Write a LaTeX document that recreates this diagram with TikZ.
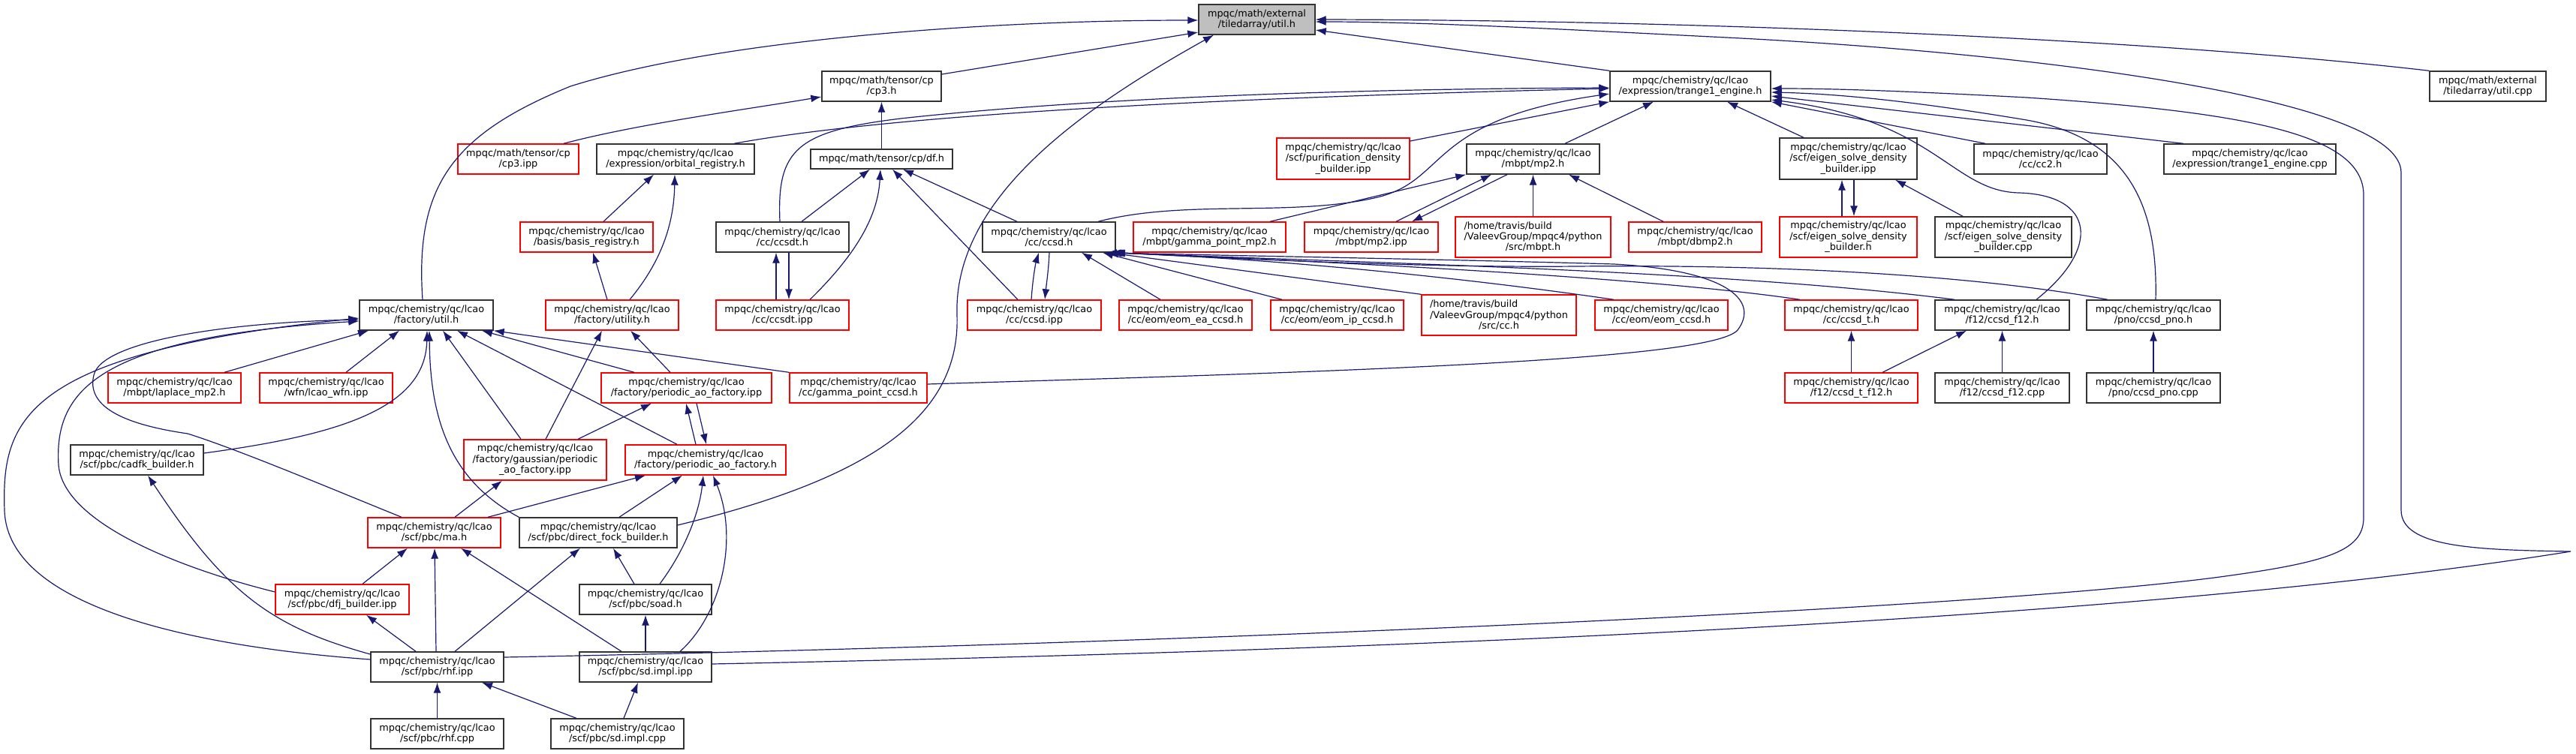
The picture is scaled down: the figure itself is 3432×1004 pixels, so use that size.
\documentclass[tikz,border=0pt]{standalone}
\usepackage{fontspec}
\usetikzlibrary{arrows.meta}
\newfontfamily\nfam{DejaVu Sans}
\newcommand\nf{\nfam\fontsize{12.85pt}{14.4pt}\selectfont}
\newcommand\lcaop{mpqc/chemistry/qc/lcao}
\newlength\lwA
\definecolor{mblue}{RGB}{25,25,112}
\tikzset{
  nb/.style={draw=black!80, line width=1.4pt, fill=white, inner sep=0pt, align=center, font=\nf},
  nr/.style={nb, draw=red},
  nroot/.style={nb, fill=black!25},
  sz/.style 2 args={minimum width=#1, minimum height=#2},
  ed/.style={draw=mblue, line width=1.2pt, -{Latex[length=14pt,width=10pt]}},
}
\begin{document}
\begin{tikzpicture}[x=1pt,y=-1pt]
\fill[white] (0,0) rectangle (3432,1004);
\useasboundingbox (0,0) rectangle (3432,1004);
% row 0
\node[nroot,sz={155}{40}] (utilh) at (1674.5,26) {mpqc/math/external\\/tiledarray/util.h};
% row 1
\node[nb,sz={159}{40}] (cpth) at (1174.5,115) {mpqc/math/tensor/cp\\/cp3.h};
\node[nb,sz={214}{40}] (trh) at (2252,115) {\lcaop\\/expression/trange1\_engine.h};
\node[nb,sz={155}{40}] (utilcpp) at (3314.5,115) {mpqc/math/external\\/tiledarray/util.cpp};
% row 2
\node[nr,sz={161}{40}] (cpipp) at (690.5,212) {mpqc/math/tensor/cp\\/cp3.ipp};
\node[nb,sz={210}{40}] (orbreg) at (900,212) {\lcaop\\/expression/orbital\_registry.h};
\node[nb,sz={189}{26}] (dfh) at (1174.5,212) {mpqc/math/tensor/cp/df.h};
\node[nr,sz={177}{55}] (purif) at (1789.5,211.5) {\lcaop\\/scf/purification\_density\\\_builder.ipp};
\node[nb,sz={177}{40}] (mp2h) at (2042.5,212) {\lcaop\\/mbpt/mp2.h};
\node[nb,sz={183}{55}] (esdbipp) at (2462.5,211.5) {\lcaop\\/scf/eigen\_solve\_density\\\_builder.ipp};
\node[nb,sz={177}{40}] (cc2h) at (2718.5,212) {\lcaop\\/cc/cc2.h};
\node[nb,sz={229}{40}] (trcpp) at (2997.5,212) {\lcaop\\/expression/trange1\_engine.cpp};
% row 3
\node[nr,sz={177}{40}] (basisreg) at (781.5,316) {\lcaop\\/basis/basis\_registry.h};
\node[nb,sz={177}{40}] (ccsdth) at (1042.5,316) {\lcaop\\/cc/ccsdt.h};
\node[nb,sz={177}{40}] (ccsdh) at (1397.5,316) {\lcaop\\/cc/ccsd.h};
\node[nr,sz={203}{40}] (gmp2) at (1611.5,316) {\lcaop\\/mbpt/gamma\_point\_mp2.h};
\node[nr,sz={178}{40}] (mp2ipp) at (1827,316) {\lcaop\\/mbpt/mp2.ipp};
\node[nr,sz={207}{54}] (mbpth) at (2042.5,316) {\settowidth{\lwA}{/ValeevGroup/mpqc4/python}\makebox[\lwA][l]{/home/travis/build}\\/ValeevGroup/mpqc4/python\\/src/mbpt.h};
\node[nr,sz={177}{40}] (dbmp2) at (2258.5,316) {\lcaop\\/mbpt/dbmp2.h};
\node[nr,sz={183}{54}] (esdbh) at (2462.5,316) {\lcaop\\/scf/eigen\_solve\_density\\\_builder.h};
\node[nb,sz={182}{54}] (esdbcpp) at (2669,316) {\lcaop\\/scf/eigen\_solve\_density\\\_builder.cpp};
% row 4
\node[nb,sz={178}{40}] (futil) at (568,420) {\lcaop\\/factory/util.h};
\node[nr,sz={177}{40}] (utility) at (815.5,420) {\lcaop\\/factory/utility.h};
\node[nr,sz={177}{40}] (ccsdtipp) at (1042.5,420) {\lcaop\\/cc/ccsdt.ipp};
\node[nr,sz={178}{40}] (ccsdipp) at (1378,420) {\lcaop\\/cc/ccsd.ipp};
\node[nr,sz={177}{40}] (eomea) at (1579.5,420) {\lcaop\\/cc/eom/eom\_ea\_ccsd.h};
\node[nr,sz={177}{40}] (eomip) at (1781.5,420) {\lcaop\\/cc/eom/eom\_ip\_ccsd.h};
\node[nr,sz={206}{54}] (cch) at (1997,420) {\settowidth{\lwA}{/ValeevGroup/mpqc4/python}\makebox[\lwA][l]{/home/travis/build}\\/ValeevGroup/mpqc4/python\\/src/cc.h};
\node[nr,sz={177}{40}] (eomccsd) at (2213.5,420) {\lcaop\\/cc/eom/eom\_ccsd.h};
\node[nr,sz={177}{40}] (ccsdt) at (2466.5,420) {\lcaop\\/cc/ccsd\_t.h};
\node[nb,sz={179}{40}] (ccsdf) at (2667.5,420) {\lcaop\\/f12/ccsd\_f12.h};
\node[nb,sz={178}{40}] (ccsdpno) at (2869,420) {\lcaop\\/pno/ccsd\_pno.h};
% row 5
\node[nr,sz={177}{40}] (laplace) at (232.5,517) {\lcaop\\/mbpt/laplace\_mp2.h};
\node[nr,sz={177}{40}] (lcaowfn) at (434.5,517) {\lcaop\\/wfn/lcao\_wfn.ipp};
\node[nr,sz={227}{40}] (paoipp) at (914.5,517) {\lcaop\\/factory/periodic\_ao\_factory.ipp};
\node[nr,sz={183}{40}] (gccsd) at (1143.5,517) {\lcaop\\/cc/gamma\_point\_ccsd.h};
\node[nr,sz={177}{40}] (ccsdtf) at (2466.5,517) {\lcaop\\/f12/ccsd\_t\_f12.h};
\node[nb,sz={179}{40}] (ccsdfcpp) at (2667.5,517) {\lcaop\\/f12/ccsd\_f12.cpp};
\node[nb,sz={178}{40}] (ccsdpnocpp) at (2869,517) {\lcaop\\/pno/ccsd\_pno.cpp};
% row 6
\node[nb,sz={177}{40}] (cadfk) at (182.5,613) {\lcaop\\/scf/pbc/cadfk\_builder.h};
\node[nr,sz={190}{54}] (gpao) at (713,613) {\lcaop\\/factory/gaussian/periodic\\\_ao\_factory.ipp};
\node[nr,sz={214}{40}] (paoh) at (940,613) {\lcaop\\/factory/periodic\_ao\_factory.h};
% row 7
\node[nr,sz={177}{40}] (mah) at (578.5,710) {\lcaop\\/scf/pbc/ma.h};
\node[nb,sz={210}{40}] (dfb) at (797,710) {\lcaop\\/scf/pbc/direct\_fock\_builder.h};
% row 8
\node[nr,sz={178}{40}] (dfj) at (456,799) {\lcaop\\/scf/pbc/dfj\_builder.ipp};
\node[nb,sz={176}{40}] (soad) at (860,799) {\lcaop\\/scf/pbc/soad.h};
% row 9
\node[nb,sz={177}{40}] (rhfipp) at (582.5,889) {\lcaop\\/scf/pbc/rhf.ipp};
\node[nb,sz={176}{40}] (sdipp) at (860,889) {\lcaop\\/scf/pbc/sd.impl.ipp};
% row 10
\node[nb,sz={177}{40}] (rhfcpp) at (582.5,978) {\lcaop\\/scf/pbc/rhf.cpp};
\node[nb,sz={177}{40}] (sdcpp) at (822.5,978) {\lcaop\\/scf/pbc/sd.impl.cpp};

% ---- edges into util.h
\draw[ed] (futil.north -| 563,0) .. controls (553,250) and (600,180) .. (760,115) .. controls (950,55) and (1300,27) .. (utilh.west |- 0,27);
\draw[ed] (cpth.east |- 0,99) -- (utilh.west |- 0,43);
\draw[ed] (dfb.east |- 0,700) .. controls (1150,640) and (1280,560) .. (1275,420) .. controls (1270,260) and (1450,140) .. (utilh.south -| 1617,0);
\draw[ed] (trh.north west) -- (utilh.east |- 0,40);
\draw[ed] (utilcpp.north west) .. controls (2900,55) and (2300,27) .. (utilh.east |- 0,26);
\draw[ed] (sdipp.east |- 0,885) .. controls (1700,870) and (2800,835) .. (3425,735) .. controls (3300,733) and (3199,730) .. (3199,680) -- (3199,230) .. controls (3199,130) and (2700,70) .. (2300,50) .. controls (2100,40) and (1900,29) .. (utilh.east |- 0,29);
% ---- edges into trange1_engine.h
\draw[ed] (rhfipp.east |- 0,876) .. controls (1500,860) and (2600,815) .. (2950,770) .. controls (3100,750) and (3149,735) .. (3149,690) -- (3149,260) .. controls (3149,180) and (3000,150) .. (2700,130) .. controls (2550,122) and (2450,118) .. (trh.east |- 0,118);
\draw[ed] (orbreg.north -| 978,0) .. controls (1150,160) and (1500,133) .. (trh.west |- 0,118);
\draw[ed] (ccsdth.north -| 1039,0) .. controls (1035,200) and (1060,175) .. (1200,158) .. controls (1500,125) and (1900,118) .. (trh.west |- 0,117);
\draw[ed] (purif.east |- 0,188) -- (trh.south west);
\draw[ed] (ccsdh.north -| 1463,0) .. controls (1580,265) and (1720,290) .. (1835,263) .. controls (1930,240) and (1900,160) .. (trh.west |- 0,125);
\draw[ed] (mp2h.north -| 2085,0) -- (trh.south -| 2203,0);
\draw[ed] (esdbipp.north -| 2403,0) -- (trh.south -| 2301,0);
\draw[ed] (cc2h.north -| 2645,0) -- (trh.south east);
\draw[ed] (trcpp.north -| 2909,0) -- (trh.east |- 0,128);
\draw[ed] (ccsdpno.north -| 2872,0) .. controls (2875,280) and (2840,185) .. (2700,160) .. controls (2550,135) and (2450,125) .. (trh.east |- 0,123);
\draw[ed] (ccsdf.north -| 2713,0) .. controls (2800,330) and (2790,260) .. (2690,257) .. controls (2600,255) and (2580,160) .. (trh.east |- 0,133);
% ---- cp3.h
\draw[ed] (cpipp.north -| 751,0) .. controls (850,165) and (1000,145) .. (cpth.west |- 0,129);
\draw[ed] (dfh.north) -- (cpth.south);
% ---- orbital_registry / basis_registry
\draw[ed] (basisreg.north -| 804,0) -- (orbreg.south -| 871,0);
\draw[ed] (utility.north -| 839,0) .. controls (880,350) and (898,300) .. (orbreg.south -| 899,0);
\draw[ed] (utility.north -| 809,0) -- (basisreg.south -| 790,0);
% ---- df.h
\draw[ed] (ccsdth.north -| 1068,0) -- (dfh.south -| 1159,0);
\draw[ed] (ccsdtipp.north -| 1079,0) .. controls (1150,330) and (1170,280) .. (dfh.south -| 1173,0);
\draw[ed] (ccsdipp.north -| 1356,0) -- (dfh.south -| 1189,0);
\draw[ed] (ccsdh.north -| 1355,0) -- (dfh.south -| 1203,0);
% ---- two-way pairs
\draw[ed] (ccsdtipp.north -| 1034,0) -- (ccsdth.south -| 1034,0);
\draw[ed] (ccsdth.south -| 1051,0) -- (ccsdtipp.north -| 1051,0);
\draw[ed] (ccsdipp.north -| 1374,0) .. controls (1376,370) and (1380,350) .. (ccsdh.south -| 1384,0);
\draw[ed] (ccsdh.south -| 1398,0) .. controls (1397,360) and (1394,380) .. (ccsdipp.north -| 1392,0);
\draw[ed] (mp2ipp.north -| 1860,0) -- (mp2h.south -| 1987,0);
\draw[ed] (mp2h.south -| 2008,0) -- (mp2ipp.north -| 1881,0);
\draw[ed] (esdbh.north -| 2454,0) -- (esdbipp.south -| 2454,0);
\draw[ed] (esdbipp.south -| 2470,0) -- (esdbh.north -| 2470,0);
\draw[ed] (paoh.north -| 927,0) -- (paoipp.south -| 914,0);
\draw[ed] (paoipp.south -| 928,0) -- (paoh.north -| 941,0);
% ---- mp2.h
\draw[ed] (gmp2.north -| 1692,0) -- (mp2h.south west);
\draw[ed] (mbpth.north) -- (mp2h.south);
\draw[ed] (dbmp2.north -| 2216,0) -- (mp2h.south -| 2090,0);
\draw[ed] (esdbcpp.north -| 2615,0) -- (esdbipp.south -| 2525,0);
% ---- ccsd.h
\draw[ed] (eomea.north -| 1546,0) -- (ccsdh.south -| 1441,0);
\draw[ed] (eomip.north -| 1708,0) -- (ccsdh.south -| 1469,0);
\draw[ed] (cch.north west) -- (ccsdh.south -| 1476,0);
\draw[ed] (eomccsd.north -| 2150,0) .. controls (1950,370) and (1700,345) .. (ccsdh.south -| 1479,0);
\draw[ed] (ccsdt.north -| 2398,0) .. controls (2200,370) and (1800,350) .. (ccsdh.south -| 1481,0);
\draw[ed] (ccsdf.north -| 2604,0) .. controls (2300,360) and (1800,350) .. (ccsdh.south -| 1483,0);
\draw[ed] (ccsdpno.north -| 2808,0) .. controls (2650,370) and (2400,352) .. (2100,355) .. controls (1900,357) and (1650,345) .. (ccsdh.south -| 1485,0);
\draw[ed] (gccsd.east |- 0,512) .. controls (1800,495) and (2280,480) .. (2315,440) .. controls (2345,400) and (2300,360) .. (2150,352) .. controls (1900,345) and (1600,340) .. (ccsdh.south -| 1474,0);
% ---- f12 / pno
\draw[ed] (ccsdtf.north) -- (ccsdt.south);
\draw[ed] (ccsdtf.north -| 2508,0) -- (ccsdf.south -| 2620,0);
\draw[ed] (ccsdfcpp.north) -- (ccsdf.south);
\draw[ed] (ccsdpnocpp.north) -- (ccsdpno.south);
% ---- factory/util.h
\draw[ed] (laplace.north -| 299,0) -- (futil.south -| 491,0);
\draw[ed] (lcaowfn.north -| 461,0) -- (futil.south -| 532,0);
\draw[ed] (cadfk.east |- 0,604) .. controls (450,580) and (567,545) .. (futil.south -| 569,0);
\draw[ed] (dfb.north west) .. controls (600,640) and (573,560) .. (futil.south -| 572,0);
\draw[ed] (gpao.north -| 694,0) -- (futil.south -| 590,0);
\draw[ed] (paoh.north -| 902,0) -- (futil.south -| 609,0);
\draw[ed] (paoipp.north -| 845,0) -- (futil.south -| 642,0);
\draw[ed] (gccsd.north west) -- (futil.south east);
\draw[ed] (rhfipp.west |- 0,879) .. controls (300,865) and (10,820) .. (6,680) .. controls (2,560) and (30,470) .. (futil.west |- 0,424);
\draw[ed] (dfj.west |- 0,789) .. controls (250,760) and (85,700) .. (78,620) .. controls (72,520) and (130,450) .. (futil.west |- 0,428);
\draw[ed] (mah.north -| 535,0) .. controls (450,655) and (320,600) .. (250,578) .. controls (160,565) and (115,540) .. (125,500) .. controls (135,455) and (300,430) .. (futil.west |- 0,426);
% ---- utility / periodic factories
\draw[ed] (gpao.north -| 727,0) -- (utility.south -| 802,0);
\draw[ed] (paoipp.north -| 893,0) -- (utility.south -| 840,0);
\draw[ed] (gpao.north -| 770,0) -- (paoipp.south -| 868,0);
\draw[ed] (mah.north -| 606,0) -- (gpao.south -| 669,0);
\draw[ed] (mah.north -| 650,0) -- (paoh.south -| 860,0);
\draw[ed] (dfb.north -| 825,0) -- (paoh.south -| 909,0);
\draw[ed] (soad.north -| 879,0) .. controls (915,730) and (932,680) .. (paoh.south -| 937,0);
\draw[ed] (sdipp.north -| 906,0) .. controls (960,820) and (985,720) .. (paoh.south -| 950,0);
% ---- pbc
\draw[ed] (dfj.north -| 483,0) -- (mah.south -| 543,0);
\draw[ed] (rhfipp.north -| 581,0) -- (mah.south -| 579,0);
\draw[ed] (sdipp.north -| 828,0) -- (mah.south -| 614,0);
\draw[ed] (rhfipp.north -| 606,0) -- (dfb.south -| 773,0);
\draw[ed] (soad.north -| 845,0) -- (dfb.south -| 817,0);
\draw[ed] (rhfipp.west |- 0,872) .. controls (360,835) and (300,790) .. (cadfk.south -| 197,0);
\draw[ed] (rhfipp.north -| 554,0) -- (dfj.south -| 488,0);
\draw[ed] (sdipp.north) -- (soad.south);
\draw[ed] (rhfcpp.north) -- (rhfipp.south);
\draw[ed] (sdcpp.north -| 768,0) -- (rhfipp.south -| 642,0);
\draw[ed] (sdcpp.north -| 831,0) -- (sdipp.south -| 850,0);
\end{tikzpicture}
\end{document}
